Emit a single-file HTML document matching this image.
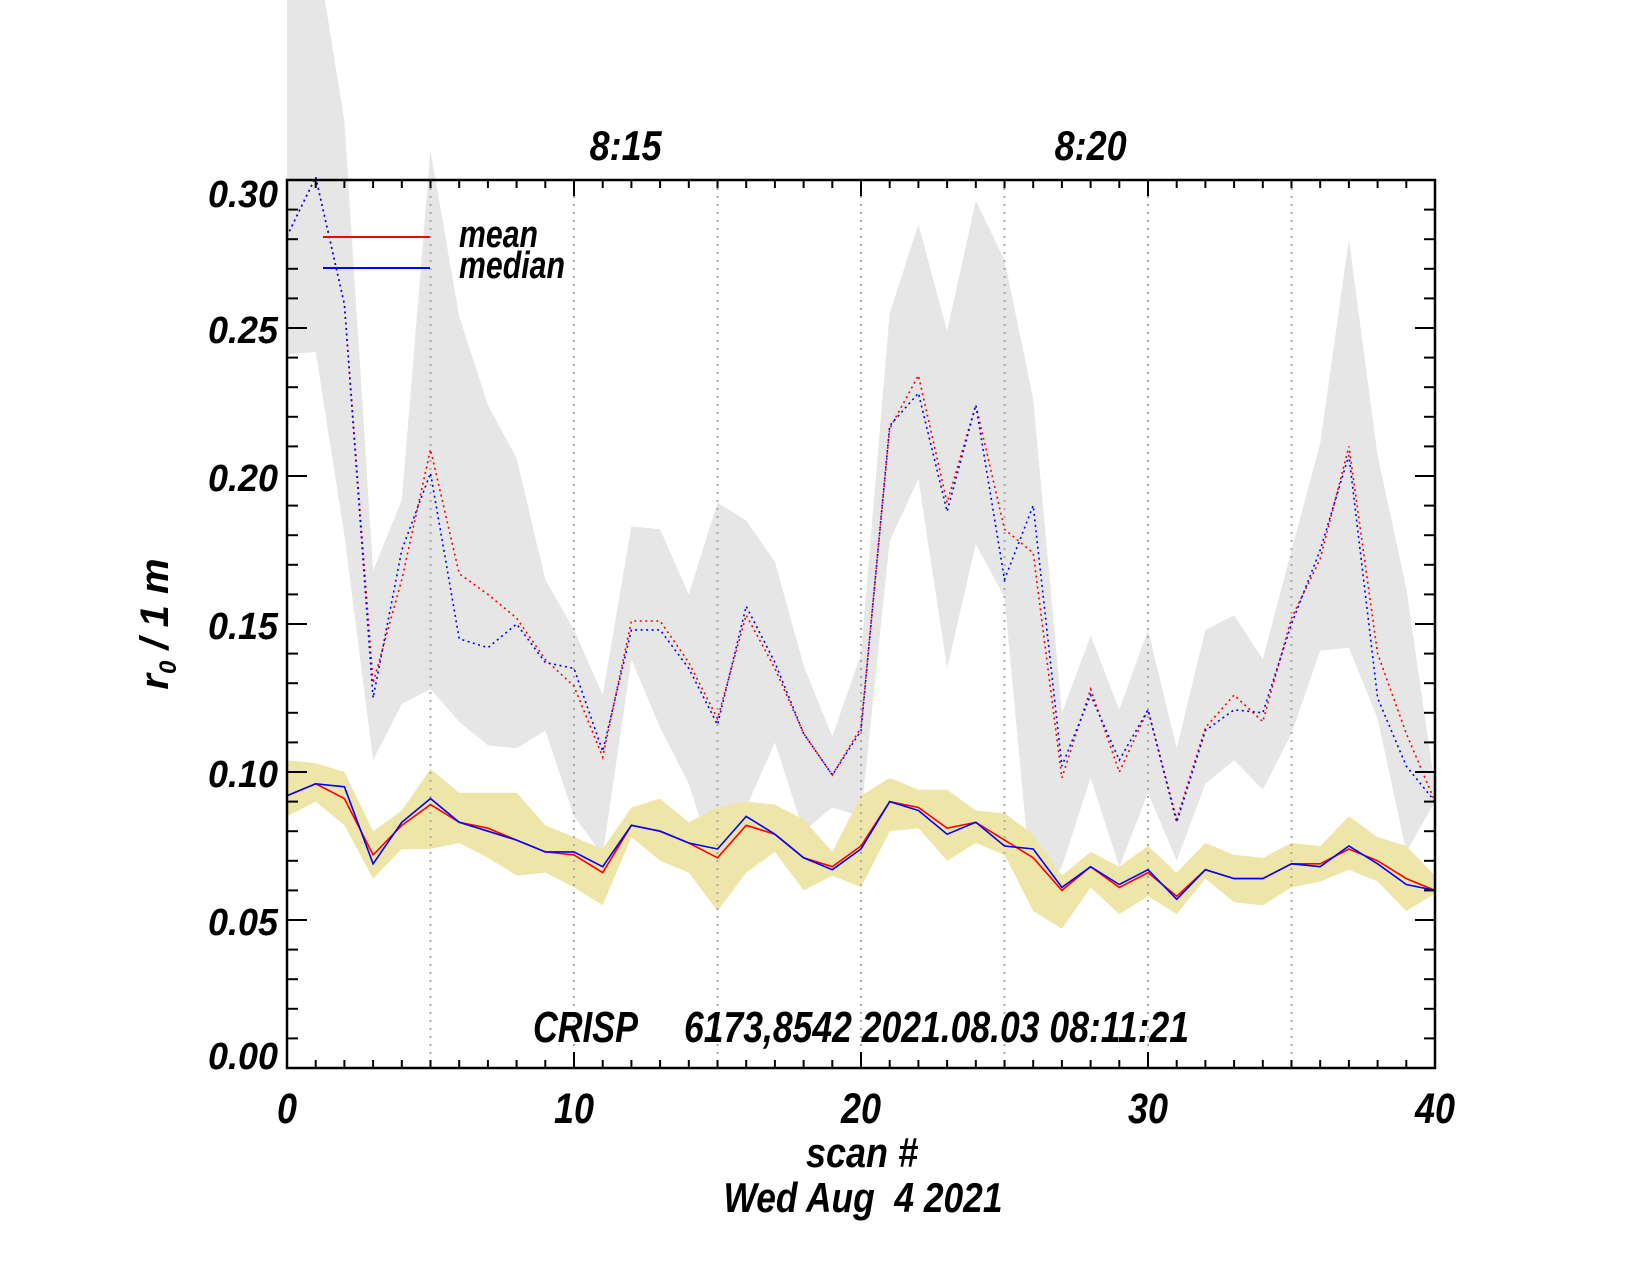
<!DOCTYPE html>
<html><head><meta charset="utf-8"><style>
html,body{margin:0;padding:0;background:#fff;}
svg{display:block;font-family:"Liberation Sans",sans-serif;font-weight:bold;font-style:italic;}
svg text{white-space:pre;}
</style></head><body>
<svg id="chart" width="1651" height="1275" viewBox="0 0 1651 1275" xmlns="http://www.w3.org/2000/svg"></svg>
<script>
const scans = Array.from({length:41},(_,i)=>i);
const meanLow = [0.092,0.096,0.091,0.072,0.082,0.089,0.083,0.081,0.077,0.073,0.072,0.066,0.082,0.080,0.076,0.071,0.082,0.079,0.071,0.068,0.075,0.090,0.088,0.081,0.083,0.077,0.071,0.060,0.068,0.061,0.066,0.058,0.067,0.064,0.064,0.069,0.069,0.074,0.070,0.064,0.060];
const medianLow = [0.092,0.096,0.095,0.069,0.083,0.091,0.083,0.080,0.077,0.073,0.073,0.068,0.082,0.080,0.076,0.074,0.085,0.079,0.071,0.067,0.074,0.090,0.087,0.079,0.083,0.075,0.074,0.061,0.068,0.062,0.067,0.057,0.067,0.064,0.064,0.069,0.068,0.075,0.069,0.062,0.060];
const yellowHi = [0.104,0.103,0.100,0.080,0.087,0.101,0.093,0.093,0.093,0.082,0.078,0.074,0.088,0.091,0.083,0.088,0.090,0.089,0.084,0.073,0.092,0.098,0.094,0.094,0.087,0.086,0.079,0.065,0.073,0.068,0.075,0.066,0.076,0.072,0.071,0.076,0.075,0.085,0.078,0.075,0.065];
const yellowLo = [0.085,0.090,0.082,0.064,0.074,0.074,0.076,0.071,0.065,0.066,0.061,0.055,0.078,0.070,0.066,0.053,0.066,0.073,0.060,0.065,0.061,0.080,0.081,0.070,0.076,0.072,0.053,0.047,0.061,0.052,0.058,0.052,0.064,0.056,0.055,0.061,0.063,0.067,0.063,0.053,0.059];
const meanHigh = [0.281,0.301,0.258,0.130,0.165,0.209,0.167,0.160,0.152,0.138,0.129,0.105,0.151,0.151,0.137,0.118,0.153,0.135,0.113,0.099,0.115,0.216,0.234,0.191,0.224,0.182,0.174,0.098,0.128,0.100,0.121,0.084,0.115,0.126,0.117,0.152,0.172,0.210,0.140,0.113,0.090];
const medianHigh = [0.281,0.301,0.258,0.125,0.175,0.201,0.145,0.142,0.150,0.137,0.135,0.107,0.148,0.148,0.135,0.116,0.156,0.137,0.113,0.099,0.114,0.217,0.228,0.188,0.224,0.165,0.190,0.102,0.126,0.104,0.121,0.083,0.114,0.121,0.120,0.150,0.175,0.207,0.125,0.102,0.090];
const grayHi = [0.40,0.38,0.32,0.168,0.192,0.310,0.254,0.224,0.206,0.165,0.148,0.126,0.183,0.182,0.160,0.191,0.185,0.171,0.136,0.112,0.140,0.255,0.285,0.249,0.293,0.273,0.226,0.120,0.146,0.121,0.148,0.108,0.148,0.153,0.138,0.175,0.211,0.280,0.207,0.162,0.095];
const grayLo = [0.241,0.242,0.180,0.104,0.123,0.128,0.117,0.109,0.108,0.114,0.085,0.072,0.138,0.115,0.096,0.065,0.088,0.110,0.080,0.088,0.085,0.178,0.199,0.135,0.177,0.159,0.055,0.068,0.098,0.068,0.093,0.070,0.096,0.104,0.094,0.113,0.141,0.142,0.118,0.073,0.090];
const xTicks = [0,10,20,30,40];
const yTicks = [0,0.05,0.10,0.15,0.20,0.25,0.30];
const yTickLabels = ["0.00","0.05","0.10","0.15","0.20","0.25","0.30"];
const timeLabels = ["8:15","8:20"];
const timeScans = [11.8,28.0];

const L=287,R=1435,T=180,B=1068;
const X=v=>L+(v/40)*(R-L);
const Y=v=>B-(v/0.30)*(B-T);
const NS="http://www.w3.org/2000/svg";
const svg=document.getElementById('chart');
function mk(tag,attrs,parent){const e=document.createElementNS(NS,tag);for(const k in attrs)e.setAttribute(k,attrs[k]);(parent||svg).appendChild(e);return e;}
function band(hi,lo,fill,name){
  let d=hi.map((v,i)=>(i?'L':'M')+X(scans[i]).toFixed(1)+','+Y(v).toFixed(1)).join('');
  for(let i=lo.length-1;i>=0;i--)d+='L'+X(scans[i]).toFixed(1)+','+Y(lo[i]).toFixed(1);
  const p=mk('path',{d:d+'Z',fill:fill});
  
  
}
function line(vals,color,dash,name){
  const d=vals.map((v,i)=>(i?'L':'M')+X(scans[i]).toFixed(1)+','+Y(v).toFixed(1)).join('');
  const p=mk('path',{d:d,fill:'none',stroke:color,'stroke-width':1.6});
  if(dash){p.setAttribute('stroke-dasharray','2 3.5');}
  
  
}
function txt(s,x,y,size,len,anchor,name){
  const t=mk('text',{x:x,y:y,'font-size':size,'text-anchor':anchor||'start',textLength:len,lengthAdjust:'spacingAndGlyphs'});
  t.textContent=s;
  
  
  return t;
}
band(grayHi,grayLo,'#e6e6e6','gray-band');
band(yellowHi,yellowLo,'#eee6a8','yellow-band');
for(let s=5;s<40;s+=5){
  const g=mk('line',{x1:X(s),x2:X(s),y1:T,y2:B,stroke:'#aaa','stroke-width':2,'stroke-dasharray':'2 6'});
  
  
}
line(meanHigh,'#ff0000',true,'mean-upper-line');
line(medianHigh,'#0000ff',true,'median-upper-line');
line(meanLow,'#ff0000',false,'mean-lower-line');
line(medianLow,'#0000ff',false,'median-lower-line');
const fr=mk('rect',{x:L,y:T,width:R-L,height:B-T,fill:'none',stroke:'#000','stroke-width':2.5});


for(let s=0;s<=40;s++){
  const len=(s%10===0)?16:8;
  mk('line',{x1:X(s),x2:X(s),y1:B,y2:B-len,stroke:'#000','stroke-width':2});
  mk('line',{x1:X(s),x2:X(s),y1:T,y2:T+len,stroke:'#000','stroke-width':2});
}
for(let k=0;k<=30;k++){
  const v=k/100,len=(k%5===0)?20:11;
  mk('line',{x1:L,x2:L+len,y1:Y(v),y2:Y(v),stroke:'#000','stroke-width':2});
  mk('line',{x1:R,x2:R-len,y1:Y(v),y2:Y(v),stroke:'#000','stroke-width':2});
}
xTicks.forEach(v=>{
  const s=String(v);
  txt(s,X(v),1123,43,s.length*20,'middle','x-tick-label-'+v);
});
yTicks.forEach((v,i)=>{
  const by=Math.min(Math.max(Y(v)+15,T+27),B+1);
  txt(yTickLabels[i],278,by,38,70,'end','y-tick-label-'+yTickLabels[i]);
});
timeLabels.forEach((s,i)=>{
  txt(s,X(timeScans[i]),160,42,72,'middle','time-label-'+s.replace(':',''));
});
txt('CRISP',533,1042,44,105,'start','instrument-label');
txt('6173,8542 2021.08.03 08:11:21',684,1042,44,505,'start','dataset-label');
txt('scan #',862,1167,42,112,'middle','x-axis-title');
txt('Wed Aug  4 2021',863,1212,42,279,'middle','date-label');
const yt=mk('text',{transform:'translate(168,624) rotate(-90)','font-size':40,'text-anchor':'middle'});


yt.innerHTML='r<tspan font-size="24" dy="8">0</tspan><tspan dy="-8"> / 1 m</tspan>';
const lg=mk('g',{});


const l1=mk('line',{x1:323,x2:430,y1:237,y2:237,stroke:'#ff0000','stroke-width':2},lg);


const l2=mk('line',{x1:323,x2:430,y1:268,y2:268,stroke:'#0000ff','stroke-width':2},lg);


txt('mean',459,247,38,79,'start','legend-mean-label');
txt('median',459,278,38,106,'start','legend-median-label');
</script>
</body></html>
